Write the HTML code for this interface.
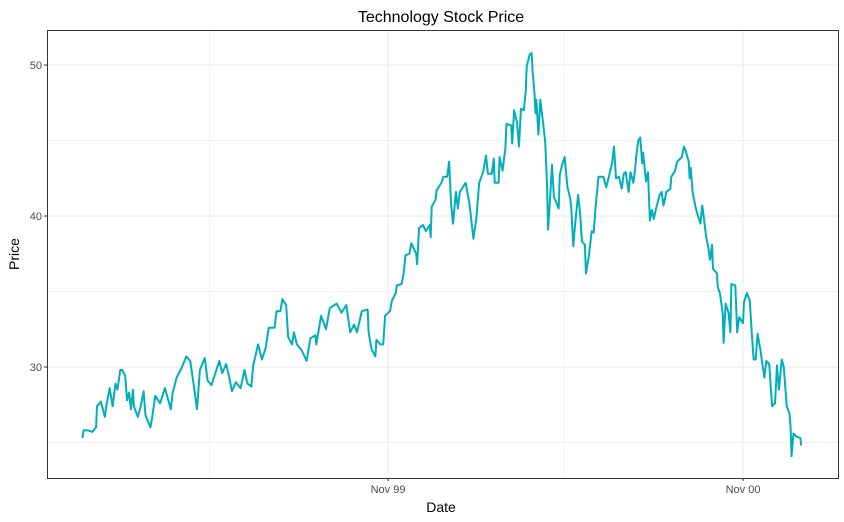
<!DOCTYPE html>
<html><head><meta charset="utf-8"><style>
body{margin:0;background:#fff}
svg{display:block;font-family:"Liberation Sans",sans-serif}
</style></head><body>
<svg id="chart" width="844" height="522">
<text x="441" y="22" text-anchor="middle" font-size="16" fill="#000">Technology Stock Price</text>
<g id="grid"></g>
<g id="series"></g>
<rect x="47.5" y="30.5" width="791" height="448" fill="none" stroke="#333" stroke-width="1"/>
<g id="axes"></g>
<text x="441" y="512" text-anchor="middle" font-size="14" fill="#000">Date</text>
<text transform="translate(19,254) rotate(-90)" text-anchor="middle" font-size="14" fill="#000">Price</text>
</svg>
<script>
// days relative to 1999-11-01
const days=[-315,-314,-309,-305,-301,-300,-296,-292,-290,-287,-284,-281,-279,-276,-274,-271,-269,-267,-265,-263,-262,-258,-255,-252,-250,-245,-243,-240,-235,-230,-227,-224,-222,-218,-213,-208,-204,-201,-197,-194,-189,-186,-182,-179,-174,-171,-167,-164,-161,-157,-152,-148,-145,-141,-139,-134,-130,-126,-123,-117,-115,-111,-109,-105,-103,-99,-97,-94,-89,-84,-80,-75,-74,-69,-64,-60,-53,-48,-43,-39,-35,-32,-27,-21,-20,-17,-13,-12,-8,-5,-3,2,4,8,9,14,16,18,22,24,29,30,32,36,39,43,44,45,49,50,55,57,61,63,65,67,70,72,74,80,84,88,91,94,98,101,103,107,109,110,114,115,118,121,122,127,128,130,133,135,137,140,142,143,146,148,149,151,152,153,155,157,160,162,164,165,167,169,171,174,176,177,179,182,185,188,189,191,193,196,198,200,203,204,207,210,212,214,217,222,225,228,231,233,235,238,241,243,245,248,250,253,255,256,258,260,262,263,266,268,270,272,274,276,280,282,284,287,291,292,296,298,303,305,307,310,311,312,314,317,319,322,324,326,328,330,332,334,335,339,340,342,345,346,348,351,353,354,358,360,362,366,367,370,373,375,377,379,381,384,386,388,390,393,396,399,401,403,406,408,411,414,415,416,418,421,425,426];
const prices=[25.3,25.8,25.8,25.7,26.0,27.4,27.7,26.7,27.6,28.6,27.4,28.9,28.5,29.8,29.8,29.4,27.8,28.3,27.2,28.5,27.4,26.7,27.4,28.4,26.8,26.0,26.7,28.1,27.6,28.6,27.9,27.2,28.3,29.3,29.9,30.7,30.4,29.1,27.2,29.8,30.6,29.1,28.8,29.4,30.4,29.6,30.2,29.4,28.4,29.0,28.6,29.8,28.9,28.7,30.1,31.5,30.5,31.3,32.6,32.6,33.7,33.7,34.5,34.1,32.0,31.5,32.3,31.5,31.1,30.4,31.9,32.1,31.5,33.4,32.5,33.9,34.2,33.6,34.1,32.3,32.8,32.3,33.7,33.8,32.3,31.2,30.7,31.8,31.5,31.5,33.4,33.7,34.4,34.9,35.4,35.5,36.2,37.4,37.5,38.2,37.5,36.8,39.2,39.4,39.0,39.4,38.6,40.6,41.1,41.7,42.2,42.6,42.6,43.6,40.8,39.5,41.6,40.5,41.6,42.2,40.8,38.5,39.8,42.2,42.9,44.0,42.8,42.8,43.8,42.2,42.2,43.9,43.0,44.5,46.1,46.0,44.8,47.0,46.2,44.6,47.1,47.0,48.3,49.9,50.7,50.8,49.6,48.1,46.8,47.7,45.4,47.7,46.1,44.9,41.9,39.1,41.1,43.4,41.3,40.8,40.5,42.7,43.3,43.9,41.9,41.1,40.4,38.0,39.5,41.4,40.2,38.3,38.1,36.2,37.3,39.0,38.9,40.6,42.6,42.6,41.9,42.7,43.5,44.6,42.5,42.6,41.8,42.8,42.9,41.6,42.9,42.2,43.3,44.0,45.0,45.2,43.5,44.2,42.3,42.9,39.7,40.4,39.8,40.4,41.4,41.6,40.7,41.6,41.8,42.6,43.0,43.6,43.9,44.6,44.3,43.6,42.5,43.2,41.6,40.6,40.1,39.5,40.7,39.7,38.6,38.0,37.1,38.1,36.5,36.2,35.3,34.9,33.6,31.6,34.2,33.6,32.3,35.5,35.4,32.3,33.3,32.9,34.3,34.9,34.4,32.2,30.5,30.5,32.2,31.1,30.2,29.3,30.4,30.2,27.4,27.6,30.1,28.5,30.5,30.0,27.4,26.9,26.0,24.1,25.6,25.4,25.3,24.8];
const yTicks=[30,40,50];
const yMinor=[25,35,45];
const xTickDays=[0,366];
const xTickLabels=["Nov 99","Nov 00"];
const xMinorDays=[-184,182];

const L=47,R=838,T=30,B=478;
const xMin=-351.6,xMax=463.9,yMin=22.65,yMax=52.32;
const xs=d=>L+(d-xMin)/(xMax-xMin)*(R-L);
const ys=v=>B-(v-yMin)/(yMax-yMin)*(B-T);
const NS="http://www.w3.org/2000/svg";
function mk(tag,attrs,parent){const e=document.createElementNS(NS,tag);for(const k in attrs)e.setAttribute(k,attrs[k]);parent.appendChild(e);return e;}
const grid=document.getElementById('grid'),axes=document.getElementById('axes'),series=document.getElementById('series');
yMinor.forEach(v=>{const l=mk('line',{x1:L,x2:R,y1:ys(v),y2:ys(v),stroke:'#ebebeb','stroke-width':0.6},grid);

});
xMinorDays.forEach(d=>{const l=mk('line',{x1:xs(d),x2:xs(d),y1:T,y2:B,stroke:'#ebebeb','stroke-width':0.6},grid);

});
yTicks.forEach(v=>{const l=mk('line',{x1:L,x2:R,y1:ys(v),y2:ys(v),stroke:'#ebebeb','stroke-width':1.1},grid);


const t=mk('line',{x1:L-3,x2:L,y1:ys(v),y2:ys(v),stroke:'#333'},axes);


const tx=mk('text',{x:L-5,y:ys(v)+4,'text-anchor':'end','font-size':11,fill:'#4d4d4d'},axes);tx.textContent=v;

});
xTickDays.forEach((d,i)=>{const l=mk('line',{x1:xs(d),x2:xs(d),y1:T,y2:B,stroke:'#ebebeb','stroke-width':1.1},grid);


const t=mk('line',{x1:xs(d),x2:xs(d),y1:B,y2:B+3,stroke:'#333'},axes);


const tx=mk('text',{x:xs(d),y:B+15,'text-anchor':'middle','font-size':11,fill:'#4d4d4d'},axes);tx.textContent=xTickLabels[i];

});
const pts=days.map((d,i)=>xs(d).toFixed(1)+','+ys(prices[i]).toFixed(1)).join(' ');
const pl=mk('polyline',{points:pts,fill:'none',stroke:'#00AFBB','stroke-width':2,'stroke-linejoin':'round'},series);


</script>
</body></html>
